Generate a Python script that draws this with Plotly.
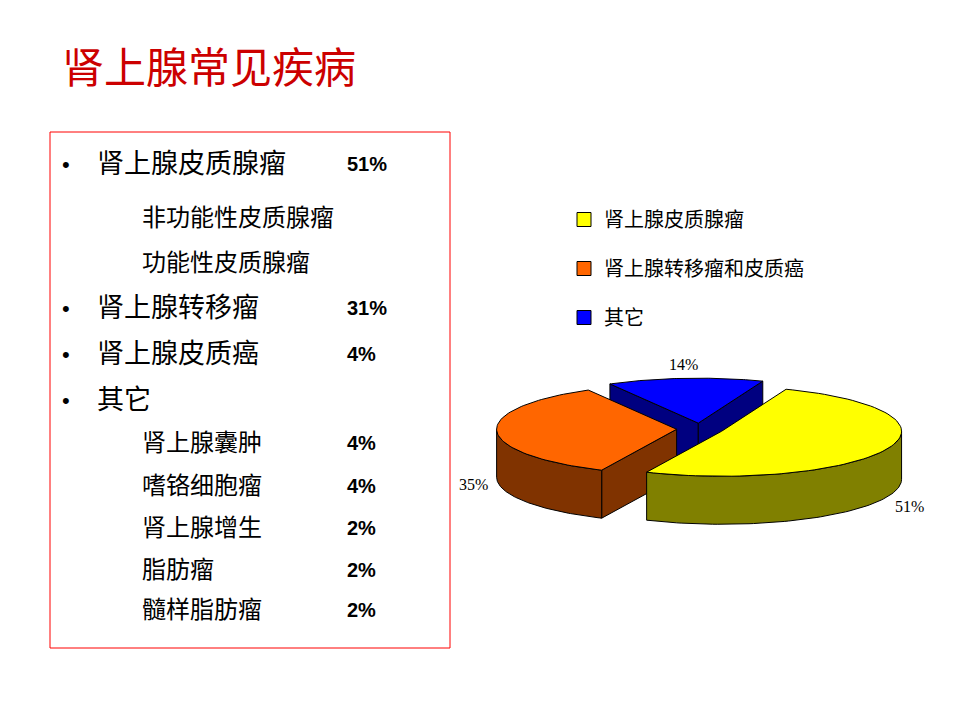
import numpy as np
import plotly.graph_objects as go

# ---------------- data ----------------
pie_labels = ["肾上腺皮质腺瘤", "肾上腺转移瘤和皮质癌", "其它"]
pie_values = [51, 35, 14]
pie_top_colors = ["#FFFF00", "#FF6600", "#0000FF"]
pie_side_colors = ["#808000", "#803300", "#000080"]

title_text = "肾上腺常见疾病"
list_levels = [0, 1, 1, 0, 0, 0, 1, 1, 1, 1, 1]
list_texts = ["肾上腺皮质腺瘤", "非功能性皮质腺瘤", "功能性皮质腺瘤", "肾上腺转移瘤",
              "肾上腺皮质癌", "其它", "肾上腺囊肿", "嗜铬细胞瘤", "肾上腺增生",
              "脂肪瘤", "髓样脂肪瘤"]
list_pcts = ["51%", "", "", "31%", "4%", "", "4%", "4%", "2%", "2%", "2%"]

# ---------------- layout parameters (pixel space) ----------------
W, H = 960, 720
row_y = [164, 218, 263, 308, 354, 400, 443, 486, 528, 570, 610]
CJK_DY = -3                # Noto CJK sits slightly low when middle-anchored
CX, CY = 700, 429          # pie centre
A, B, D = 180, 45, 48      # ellipse radii and depth
EXPLODE = 0.13
START = 69.0               # start angle (deg), slices go clockwise

fig = go.Figure()

def top_pt(cx, cy, t):
    r = np.radians(t)
    return cx + A * np.cos(r), cy - B * np.sin(r)

total = float(sum(pie_values))
slices = []
ang = START
for v in pie_values:
    span = 360.0 * v / total
    t_start, t_end = ang, ang - span
    m = (t_start + t_end) / 2
    ox = EXPLODE * A * np.cos(np.radians(m))
    oy = -EXPLODE * B * np.sin(np.radians(m))
    slices.append((t_start, t_end, m, CX + ox, CY + oy))
    ang = t_end

def arc(cx, cy, t1, t2, n=80, dy=0.0):
    ts = np.linspace(t1, t2, n)
    xs = cx + A * np.cos(np.radians(ts))
    ys = cy - B * np.sin(np.radians(ts)) + dy
    return list(xs), list(ys)

def add_poly(xs, ys, color):
    fig.add_trace(go.Scatter(x=xs + [xs[0]], y=ys + [ys[0]], mode="lines", fill="toself",
                             fillcolor=color, line=dict(color="black", width=1),
                             hoverinfo="skip", showlegend=False))

# draw order: back slice (blue) first, then orange, then yellow
order = [2, 1, 0]
for i in order:
    t_start, t_end, m, cx, cy = slices[i]
    side = pie_side_colors[i]
    # radial cut faces
    for theta, normal in ((t_start, t_start + 90), (t_end, t_end - 90)):
        if np.sin(np.radians(normal)) < 0:
            ex, ey = top_pt(cx, cy, theta)
            add_poly([cx, ex, ex, cx], [cy, ey, ey + D, cy + D], side)
    # outer curved side, front half only
    for k in range(-3, 3):
        lo, hi = -180 + 360 * k, 0 + 360 * k
        a1, a2 = max(lo, t_end), min(hi, t_start)
        if a2 > a1:
            xs, ys = arc(cx, cy, a2, a1)
            xb, yb = arc(cx, cy, a1, a2, dy=D)
            add_poly(xs + xb, ys + yb, side)
    # top face
    xs, ys = arc(cx, cy, t_start, t_end)
    add_poly([cx] + xs, [cy] + ys, pie_top_colors[i])

# percentage labels
for i, (t_start, t_end, m, cx, cy) in enumerate(slices):
    s, c = np.sin(np.radians(m)), np.cos(np.radians(m))
    lx = cx + 1.13 * A * c
    ly = cy - 1.3 * B * s + (1.1 * D if s < 0.5 else 0)
    fig.add_annotation(x=lx, y=ly, text=f"{pie_values[i]}%", showarrow=False,
                       font=dict(family="Liberation Serif", size=16, color="black"),
                       xanchor="center", yanchor="middle")

# legend traces
for i, name in enumerate(pie_labels):
    fig.add_trace(go.Scatter(x=[None], y=[None], mode="markers", name=name,
                             legendgroup=name,
                             marker=dict(symbol="square", size=14, color=pie_top_colors[i],
                                         line=dict(color="black", width=1))))

# title
fig.add_annotation(x=60, y=67 + CJK_DY, text=title_text, showarrow=False, xanchor="left",
                   yanchor="middle",
                   font=dict(family="Noto Sans CJK SC", size=42, color="#CC0000"))

# text box
fig.add_shape(type="rect", x0=50, y0=132, x1=450, y1=648,
              line=dict(color="#FF0000", width=1), fillcolor="rgba(0,0,0,0)")
for lvl, txt, pct, y in zip(list_levels, list_texts, list_pcts, row_y):
    if lvl == 0:
        fig.add_annotation(x=60, y=y, text="•", showarrow=False, xanchor="left",
                           yanchor="middle",
                           font=dict(family="Liberation Sans", size=22, color="black"))
        fig.add_annotation(x=95, y=y + CJK_DY, text=txt, showarrow=False, xanchor="left",
                           yanchor="middle",
                           font=dict(family="Noto Sans CJK SC", size=27, color="black"))
    else:
        fig.add_annotation(x=140, y=y + CJK_DY, text=txt, showarrow=False, xanchor="left",
                           yanchor="middle",
                           font=dict(family="Noto Sans CJK SC", size=24, color="black"))
    if pct:
        fig.add_annotation(x=345, y=y, text=f"<b>{pct}</b>", showarrow=False,
                           xanchor="left", yanchor="middle",
                           font=dict(family="Liberation Sans", size=20, color="black"))

fig.update_layout(
    width=W, height=H,
    margin=dict(l=0, r=0, t=0, b=0),
    paper_bgcolor="white", plot_bgcolor="white",
    xaxis=dict(range=[0, W], visible=False, fixedrange=True),
    yaxis=dict(range=[H, 0], visible=False, fixedrange=True),
    showlegend=True,
    legend=dict(x=564 / W, y=1 - 200 / H, xanchor="left", yanchor="top",
                font=dict(family="Noto Sans CJK SC", size=20, color="black"),
                tracegroupgap=20, itemwidth=30, bgcolor="rgba(0,0,0,0)"),
)

fig.write_html("out.html")
